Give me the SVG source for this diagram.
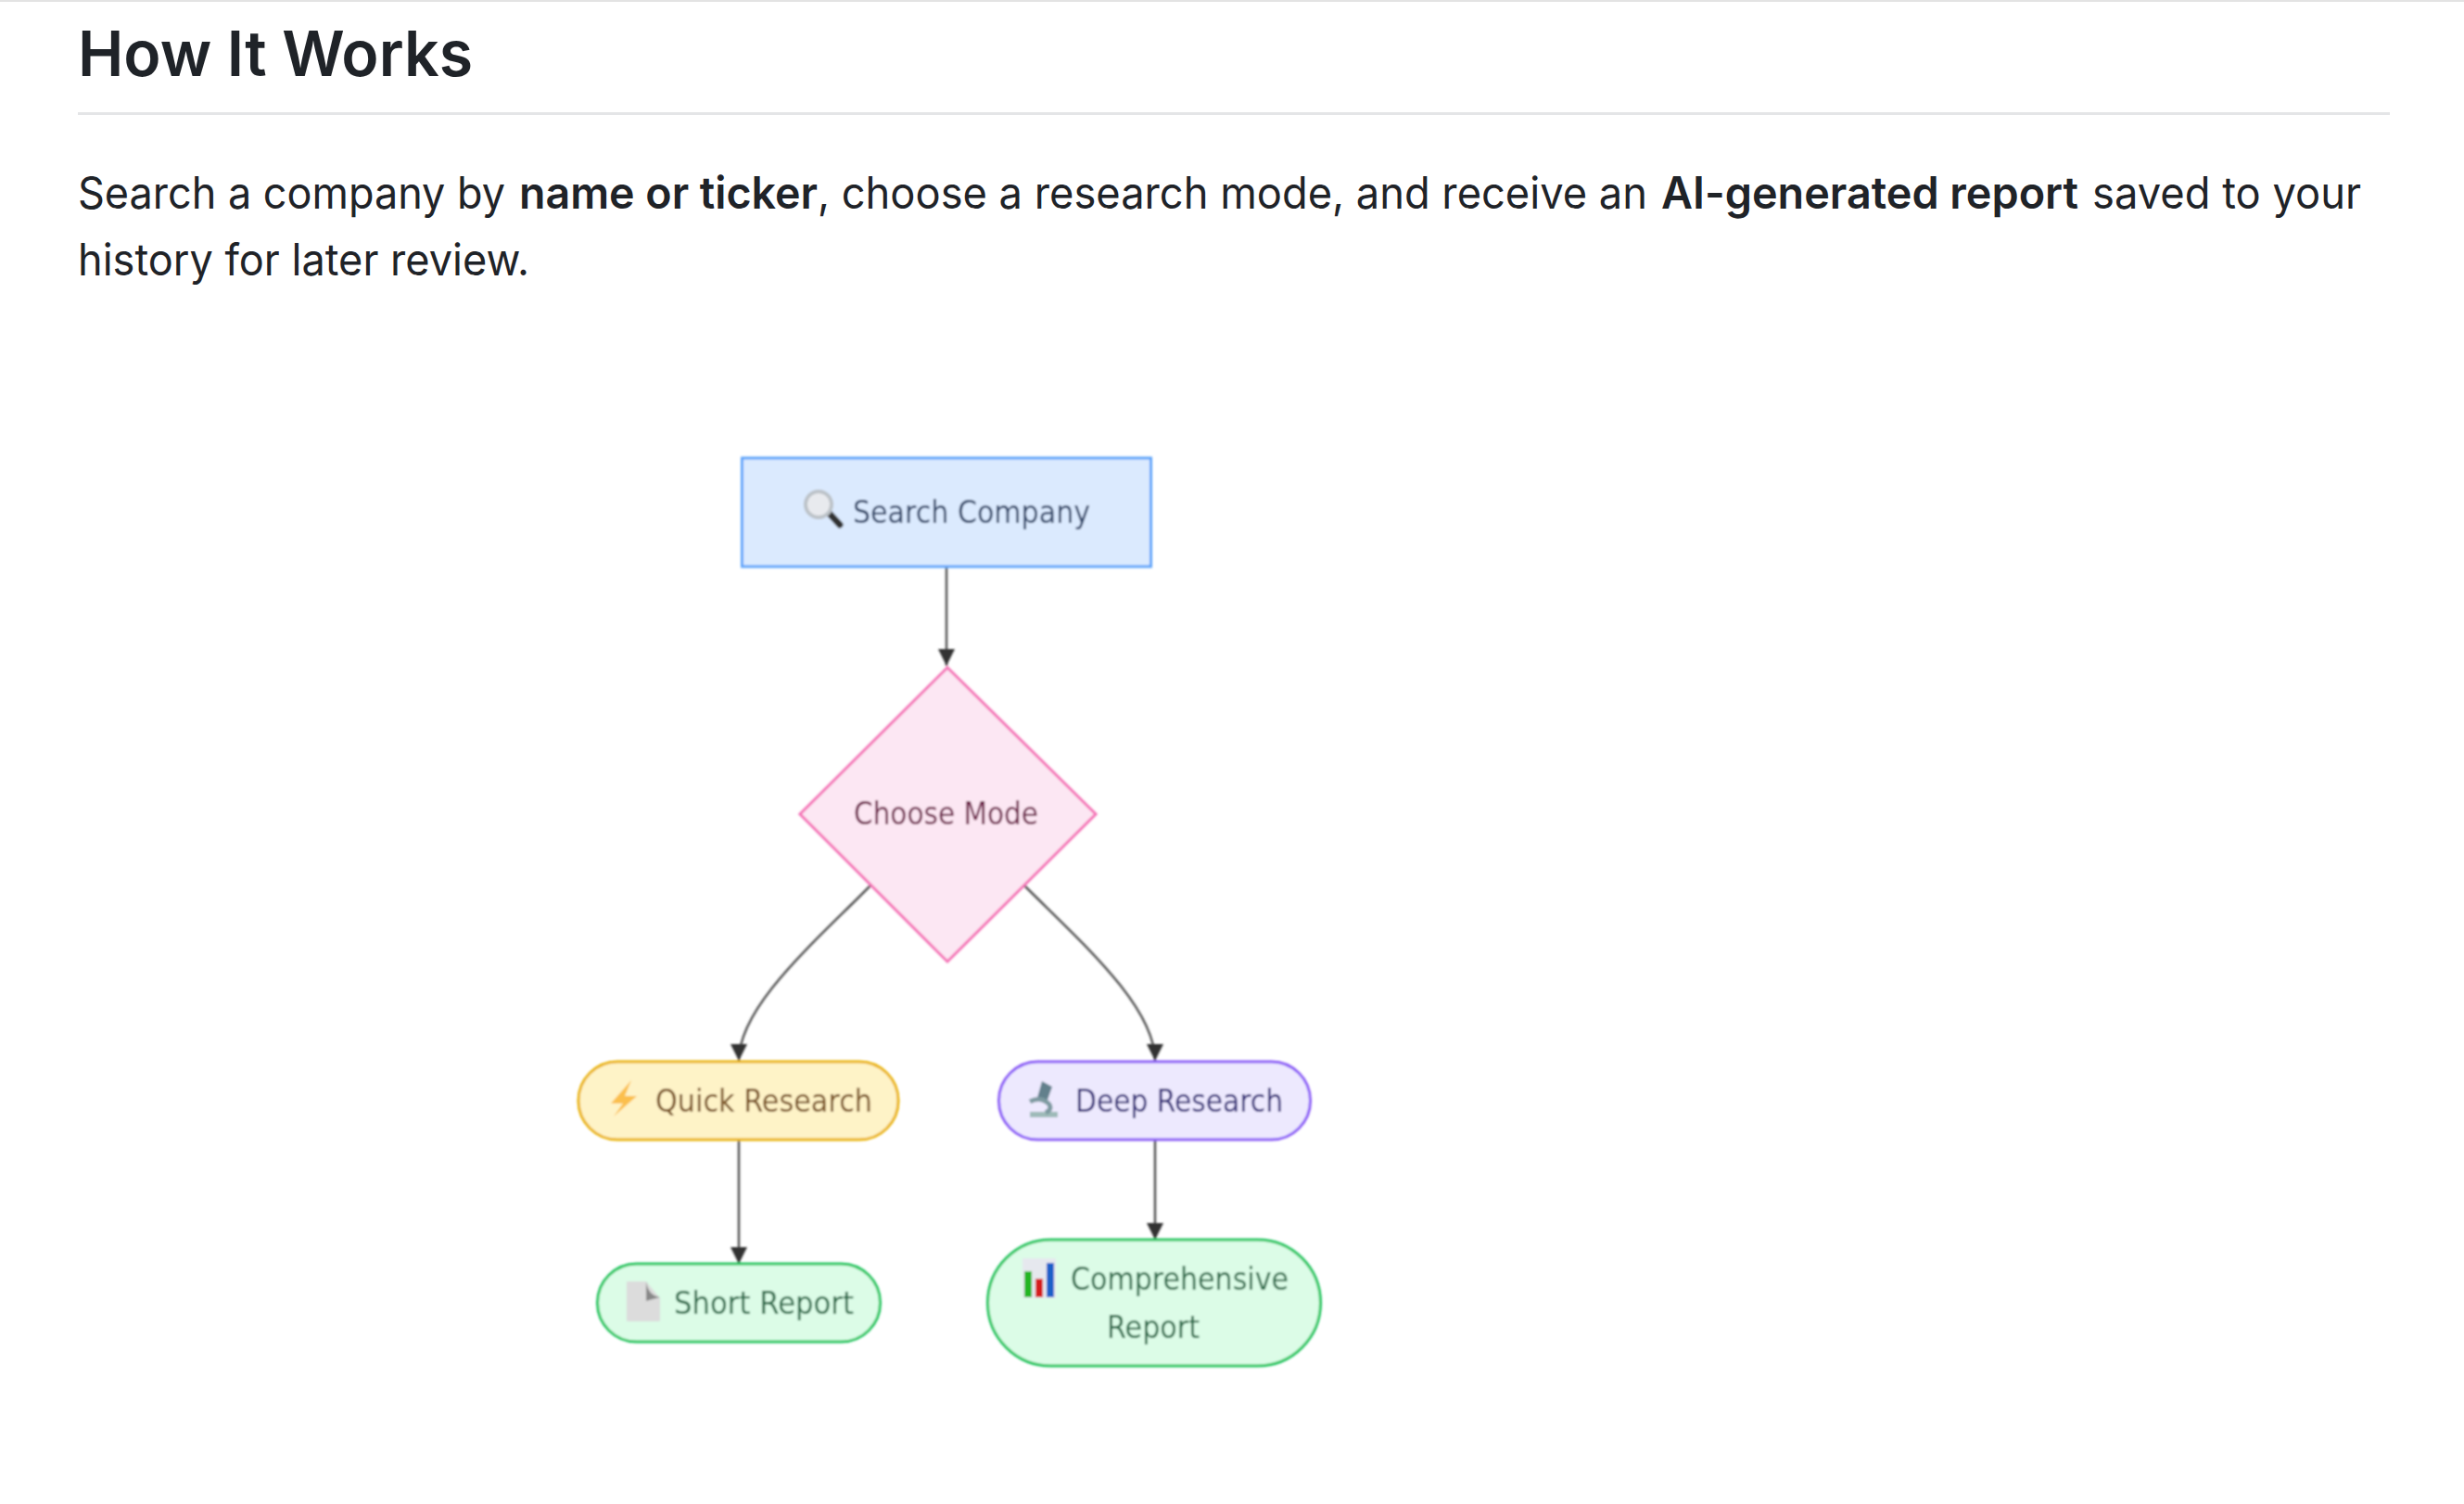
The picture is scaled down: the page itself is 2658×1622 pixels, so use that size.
<svg xmlns="http://www.w3.org/2000/svg" width="2658" height="1622" viewBox="0 0 2658 1622">
<defs>
<style>
.h{font-family:Inter,"Liberation Sans",sans-serif;fill:#1f2328}
.b{font-size:48px;font-weight:400}
.s{font-weight:600}
.n{font-family:"DejaVu Sans",Verdana,sans-serif;font-size:33px}
.e{fill:none;stroke:#555;stroke-width:2.500}
</style>
<marker id="arr" markerUnits="userSpaceOnUse" markerWidth="20" markerHeight="18" refX="18" refY="9" orient="auto"><path d="M0 0L18 9L0 18z" fill="#333"/></marker>
<filter id="soft" x="-5%" y="-5%" width="110%" height="110%"><feGaussianBlur stdDeviation="0.9"/></filter>
</defs>
<rect width="2658" height="1622" fill="#fff"/>
<rect width="2658" height="2" fill="#e3e3e3"/>
<g id="page-text">
<text class="h" x="84" y="82" font-size="68" font-weight="600" textLength="426" lengthAdjust="spacingAndGlyphs">How It Works</text>
<rect x="84" y="121" width="2494" height="3" fill="#e4e5e7"/>
<text class="h b" x="84" y="225" textLength="461" lengthAdjust="spacingAndGlyphs">Search a company by</text>
<text class="h b s" x="560" y="225" textLength="322" lengthAdjust="spacingAndGlyphs">name or ticker</text>
<text class="h b" x="882" y="225" textLength="895" lengthAdjust="spacingAndGlyphs">, choose a research mode, and receive an</text>
<text class="h b s" x="1792" y="225" textLength="450" lengthAdjust="spacingAndGlyphs">AI-generated report</text>
<text class="h b" x="2257" y="225" textLength="290" lengthAdjust="spacingAndGlyphs">saved to your</text>
<text class="h b" x="84" y="297" textLength="487" lengthAdjust="spacingAndGlyphs">history for later review.</text>
</g>
<g filter="url(#soft)">
<g id="connectors">
<path class="e" d="M1021 611V718" marker-end="url(#arr)"/>
<path class="e" d="M939 955C880 1015 797 1085 797 1144" marker-end="url(#arr)"/>
<path class="e" d="M1105 955C1165 1015 1246 1085 1246 1144" marker-end="url(#arr)"/>
<path class="e" d="M797 1230V1363" marker-end="url(#arr)"/>
<path class="e" d="M1246 1230V1337" marker-end="url(#arr)"/>
</g>
<g id="search">
<rect x="800.500" y="494" width="441" height="117" fill="#dbeafe" stroke="#60a5fa" stroke-width="3"/>
<g id="icon-magnifier">
<path d="M893 552L906 566" stroke="#333" stroke-width="7" stroke-linecap="round"/>
<circle cx="883" cy="544" r="14" fill="#e8eaee" stroke="#bcc2c8" stroke-width="4"/>
</g>
<text class="n" x="920" y="564" fill="#2f4468" textLength="256" lengthAdjust="spacingAndGlyphs">Search Company</text>
</g>
<g id="choose">
<path d="M1022 720L1182 878L1022 1037L863 878z" fill="#fce7f3" stroke="#f472b6" stroke-width="3"/>
<text class="n" x="921" y="889" fill="#6b1a45" textLength="199" lengthAdjust="spacingAndGlyphs">Choose Mode</text>
</g>
<g id="quick">
<rect x="624" y="1145" width="345" height="84" rx="42" fill="#fef3c7" stroke="#eab308" stroke-width="3"/>
<path d="M681 1165L659 1190L672 1190L662 1204L687 1182L674 1182z" fill="#fbbf4e"/>
<text class="n" x="707" y="1199" fill="#78501f" textLength="234" lengthAdjust="spacingAndGlyphs">Quick Research</text>
</g>
<g id="deep">
<rect x="1077.500" y="1145" width="336" height="84" rx="42" fill="#ede9fe" stroke="#8b5cf6" stroke-width="3"/>
<g id="icon-microscope">
<path d="M1111 1205H1141V1199H1111z" fill="#9dbab8"/>
<path d="M1124 1166L1135 1172L1129 1189L1119 1184z" fill="#62808c"/>
<path d="M1111 1188Q1122 1182 1131 1190Q1136 1196 1128 1200" fill="none" stroke="#7d9aa0" stroke-width="5"/>
</g>
<text class="n" x="1160" y="1199" fill="#312a78" textLength="224" lengthAdjust="spacingAndGlyphs">Deep Research</text>
</g>
<g id="short">
<rect x="644.500" y="1363" width="305" height="84" rx="42" fill="#dcfce7" stroke="#22c55e" stroke-width="3"/>
<path d="M676 1382H697L712 1400V1425H676z" fill="#dcdcdc"/>
<path d="M697 1382Q699 1397 712 1399L697 1403z" fill="#888"/>
<text class="n" x="727" y="1417" fill="#2a6a48" textLength="194" lengthAdjust="spacingAndGlyphs">Short Report</text>
</g>
<g id="comprehensive">
<rect x="1065.500" y="1337" width="359" height="136" rx="68" fill="#dcfce7" stroke="#22c55e" stroke-width="3"/>
<rect x="1103" y="1357" width="36" height="43" fill="#e6e8ee"/>
<rect x="1105" y="1371" width="8" height="28" fill="#22b522"/>
<rect x="1117" y="1379" width="8" height="20" fill="#d51a1a"/>
<rect x="1129" y="1362" width="8" height="37" fill="#1d5fc9"/>
<text class="n" x="1155" y="1391" fill="#2a6a48" textLength="235" lengthAdjust="spacingAndGlyphs">Comprehensive</text>
<text class="n" x="1194" y="1443" fill="#2a6a48" textLength="100" lengthAdjust="spacingAndGlyphs">Report</text>
</g>
</g>
</svg>
